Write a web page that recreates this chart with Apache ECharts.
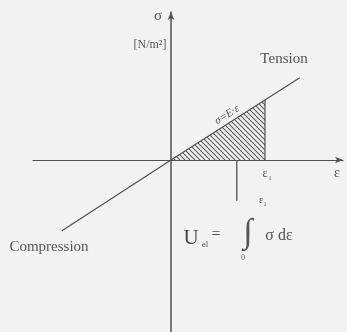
<!DOCTYPE html>
<html>
<head>
<meta charset="utf-8">
<script src="https://cdn.jsdelivr.net/npm/echarts@6/dist/echarts.min.js"></script>
<style>
  html, body { margin: 0; padding: 0; background: #f2f2f2; }
  #chart { width: 347px; height: 332px; }
</style>
</head>
<body>
<div id="chart"></div>
<script>
// strain / stress in arbitrary units (eps1 = 1, E = 1)
const lineStrain = [-1.16, 0, 1.37];
const lineStress = [-1.18, 0, 1.37];
const hatchStrain = [0, 1];
const hatchStress = [0, 1];
const eps1Edge = [[1, 0], [1, 1]];
const pointerLine = [[0.7, 0], [0.7, -0.68]];
const strainRange = [-1.468, 1.83];
const stressRange = [-2.867, 2.467];

const ink = "#505050";
const serif = "'Liberation Serif', 'DejaVu Serif', serif";

// diagonal hatch tile ("\" direction)
function hatchPattern() {
  const s = 5;
  const c = document.createElement("canvas");
  c.width = s;
  c.height = s;
  const ctx = c.getContext("2d");
  ctx.strokeStyle = "#5a5a5a";
  ctx.lineWidth = 1.1;
  ctx.beginPath();
  ctx.moveTo(-1, -1);
  ctx.lineTo(s + 1, s + 1);
  ctx.moveTo(-1, s - 1);
  ctx.lineTo(1, s + 1);
  ctx.moveTo(s - 1, -1);
  ctx.lineTo(s + 1, 1);
  ctx.stroke();
  return c;
}

function txt(x, y, text, font, fill, rotation) {
  return {
    type: "text",
    x: x,
    y: y,
    rotation: rotation || 0,
    style: { text: text, font: font, fill: fill || "#555", align: "center", verticalAlign: "middle" },
  };
}

let myChart = echarts.init(document.getElementById("chart"));
let option = {
  backgroundColor: "#f2f2f2",
  animation: false,
  grid: { left: 33, right: 4, top: 12, bottom: 0 },
  xAxis: {
    type: "value",
    min: strainRange[0],
    max: strainRange[1],
    axisLine: {
      onZero: true,
      symbol: ["none", "arrow"],
      symbolSize: [5, 8],
      lineStyle: { color: ink, width: 1.2 },
    },
    axisTick: { show: false },
    axisLabel: { show: false },
    splitLine: { show: false },
  },
  yAxis: {
    type: "value",
    min: stressRange[0],
    max: stressRange[1],
    axisLine: {
      onZero: true,
      symbol: ["none", "arrow"],
      symbolSize: [5, 8],
      lineStyle: { color: ink, width: 1.5 },
    },
    axisTick: { show: false },
    axisLabel: { show: false },
    splitLine: { show: false },
  },
  series: [
    {
      // hatched area under sigma = E eps
      type: "line",
      data: hatchStrain.map((e, i) => [e, hatchStress[i]]),
      symbol: "none",
      lineStyle: { width: 0 },
      areaStyle: {
        color: { image: hatchPattern(), repeat: "repeat" },
        opacity: 1,
      },
    },
    {
      type: "line",
      data: lineStrain.map((e, i) => [e, lineStress[i]]),
      symbol: "none",
      lineStyle: { color: ink, width: 1.2 },
    },
    {
      type: "line",
      data: eps1Edge,
      symbol: "none",
      lineStyle: { color: ink, width: 1.2 },
    },
    {
      type: "line",
      data: pointerLine,
      symbol: "none",
      lineStyle: { color: ink, width: 1.3 },
    },
  ],
  graphic: [
    txt(158, 16, "σ", "15px " + serif),
    txt(150, 45, "[N/m²]", "12px " + serif, "#555"),
    txt(284, 59, "Tension", "15px " + serif),
    txt(227, 115, "σ=E·ε", "italic 11px " + serif, "#555", 0.57),
    txt(265, 174, "ε", "12px " + serif),
    txt(270, 178, "1", "7px " + serif),
    txt(337, 173, "ε", "14px " + serif),
    txt(49, 247, "Compression", "15px " + serif),
    txt(191, 238, "U", "21px " + serif, "#444"),
    txt(205, 245, "el", "9px " + serif),
    txt(216, 235, "=", "16px " + serif),
    txt(248, 233, "∫", "italic 34px " + serif),
    txt(261, 200, "ε", "10px " + serif),
    txt(265, 204, "1", "6px " + serif),
    txt(243, 258, "0", "8px " + serif),
    txt(279, 236, "σ dε", "16px " + serif),
  ],
};
option && myChart.setOption(option);
</script>
</body>
</html>
